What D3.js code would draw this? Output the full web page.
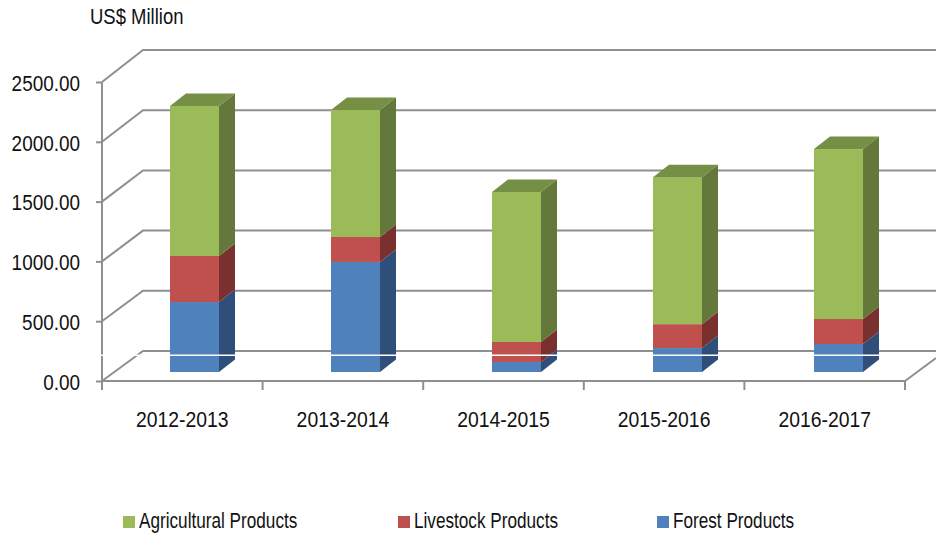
<!DOCTYPE html>
<html><head><meta charset="utf-8">
<script src="https://cdnjs.cloudflare.com/ajax/libs/d3/7.8.5/d3.min.js"></script>
<style>html,body{margin:0;padding:0;background:#fff}svg{display:block}text{font-family:"Liberation Sans",Arial,sans-serif;fill:#111}</style>
</head><body><svg id="c" width="936" height="537"></svg>
<script>
const categories=["2012-2013","2013-2014","2014-2015","2015-2016","2016-2017"];
const forest=[585,920,84,200,234];
const livestock=[385,209,167,200,209];
const agricultural=[1254,1062,1254,1229,1421];
const yTicks=[0,500,1000,1500,2000,2500];
const seriesNames=["Forest Products","Livestock Products","Agricultural Products"];
const unitLabel="US$ Million";

const svg=d3.select("#c");
const L=102,R=905,Y0=381,Y1=82,wallDx=41;
const barDx=16,barDy=-12.5,barOffY=-9;
const x=d3.scaleBand().domain(categories).range([L,R]);
const xBar=d3.scalePoint().domain(categories).range([170,814]);
const y=d3.scaleLinear().domain([0,2500]).range([Y0,Y1]);
const yBack=d3.scaleLinear().domain([0,2500]).range([351,50]);
const gridC="#8f8f8f";
const front=["#4f81bd","#c0504d","#9bbb59"];
const side=["#2f4f7a","#7a302e","#63783a"];
const topc=["#3f6797","#9a403e","#758f45"];
function squeeze(sel,f){
  sel.each(function(){
    const t=d3.select(this),w=this.getComputedTextLength();
    t.attr("textLength",w*f).attr("lengthAdjust","spacingAndGlyphs");
  });
}
yTicks.forEach(t=>{
  svg.append("path").attr("fill","none").attr("stroke",gridC).attr("stroke-width",2)
    .attr("d",`M${L},${y(t)}L${L+wallDx},${yBack(t)}L936,${yBack(t)}`);
});
svg.append("path").attr("fill","none").attr("stroke",gridC).attr("stroke-width",2)
  .attr("d",`M${R},${Y0}L936,${Y0-23}`);
svg.append("line").attr("x1",L).attr("x2",L).attr("y1",Y1).attr("y2",Y0).attr("stroke",gridC).attr("stroke-width",2);
svg.append("line").attr("x1",L).attr("x2",R).attr("y1",Y0).attr("y2",Y0).attr("stroke",gridC).attr("stroke-width",2);
const yAxis=d3.axisLeft(y).tickValues(yTicks).tickFormat(d3.format(".2f")).tickSize(6).tickPadding(16);
const gy=svg.append("g").attr("transform",`translate(${L},0)`).call(yAxis);
gy.select(".domain").remove();
gy.selectAll("line").attr("stroke",gridC).attr("stroke-width",2);
gy.selectAll("text").style("font-size","22px").attr("dy","0.38em").call(squeeze,0.86);
const xAxis=d3.axisBottom(x).tickSize(0).tickPadding(30);
const gx=svg.append("g").attr("transform",`translate(0,${Y0})`).call(xAxis);
gx.select(".domain").remove();
gx.selectAll("text").style("font-size","22px").call(squeeze,0.88);
d3.range(categories.length+1).forEach(i=>{
  const px=L+i*x.step();
  svg.append("line").attr("x1",px).attr("x2",px).attr("y1",Y0).attr("y2",Y0+9).attr("stroke",gridC).attr("stroke-width",2);
});
const stack=[forest,livestock,agricultural];
const bw=49;
categories.forEach((c,i)=>{
  const bx=xBar(c);
  let cum=0;
  stack.forEach((s,k)=>{
    const a=y(cum)+barOffY,b=y(cum+s[i])+barOffY;
    cum+=s[i];
    svg.append("rect").attr("x",bx).attr("y",b).attr("width",bw).attr("height",a-b).attr("fill",front[k]);
    svg.append("path").attr("fill",side[k])
      .attr("d",`M${bx+bw},${a}L${bx+bw+barDx},${a+barDy}L${bx+bw+barDx},${b+barDy}L${bx+bw},${b}Z`);
    if(k===2){
      svg.append("path").attr("fill",topc[k])
        .attr("d",`M${bx},${b}L${bx+barDx},${b+barDy}L${bx+bw+barDx},${b+barDy}L${bx+bw},${b}Z`);
    }
  });
});
svg.append("rect").attr("x",96).attr("y",354.5).attr("width",840).attr("height",1.5).attr("fill","#fff");
svg.append("text").attr("x",90).attr("y",24).style("font-size","22px").text(unitLabel).call(squeeze,0.84);
const legendX=[123,398,657];
const legendOrder=[2,1,0];
legendOrder.forEach((k,i)=>{
  svg.append("rect").attr("x",legendX[i]).attr("y",516).attr("width",12).attr("height",12).attr("fill",front[k]);
  svg.append("text").attr("x",legendX[i]+16).attr("y",528).style("font-size","22px").text(seriesNames[k]).call(squeeze,0.78);
});
</script></body></html>
